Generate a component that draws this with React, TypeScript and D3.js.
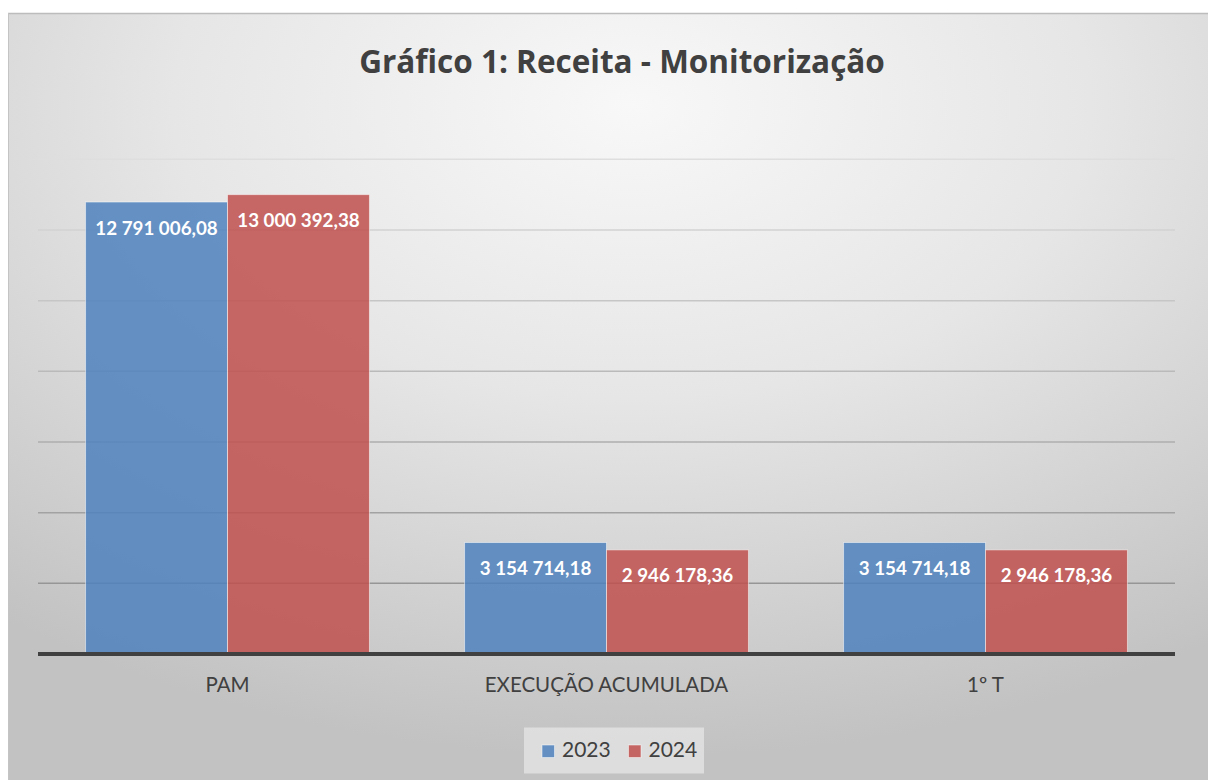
import React from "react";
import * as d3 from "d3";

const title = "Gráfico 1: Receita - Monitorização";
const categories = ["PAM", "EXECUÇÃO ACUMULADA", "1º T"];
const seriesNames = ["2023", "2024"];
const values2023 = [12791006.08, 3154714.18, 3154714.18];
const values2024 = [13000392.38, 2946178.36, 2946178.36];
const yTicks = [0, 2000000, 4000000, 6000000, 8000000, 10000000, 12000000, 14000000];
const colors = ["#4F81BD", "#C0504D"];

const W = 1208;
const H = 780;

function fmt(v: number): string {
  const [intPart, dec] = v.toFixed(2).split(".");
  const withSpaces = intPart.replace(/\B(?=(\d{3})+(?!\d))/g, " ");
  return `${withSpaces},${dec}`;
}

export default function App() {
  const left = 38;
  const right = 1175;
  const top = 159.3;
  const bottom = 654;

  const x0 = d3.scaleBand<string>().domain(categories).range([left, right]).paddingInner(0).paddingOuter(0);
  const y = d3.scaleLinear().domain([0, 14000000]).range([bottom, top]);
  const bandW = x0.bandwidth();
  const barW = bandW / (2 + 0.67);
  const x1 = d3.scaleBand<string>().domain(seriesNames).range([0, barW * 2]);

  const series = [values2023, values2024];
  const font = "Lato, 'Open Sans', sans-serif";
  const titleFont = "'Open Sans', Lato, sans-serif";

  return (
    <svg width={W} height={H} style={{ position: "absolute", left: 0, top: 0 }}>
      <defs>
        <radialGradient id="bg" cx="52%" cy="12%" r="85%" fx="52%" fy="12%">
          <stop offset="0%" stopColor="#f8f8f8" />
          <stop offset="45%" stopColor="#e6e6e6" />
          <stop offset="100%" stopColor="#c2c2c2" />
        </radialGradient>
        <linearGradient id="grid" gradientUnits="userSpaceOnUse" x1="0" y1={top} x2="0" y2={bottom}>
          <stop offset="0%" stopColor="#dedede" />
          <stop offset="100%" stopColor="#8a8a8a" />
        </linearGradient>
      </defs>
      <rect x={0} y={0} width={W} height={H} fill="#ffffff" />
      <rect x={8} y={13} width={W - 8} height={H - 13} fill="url(#bg)" />
      <line x1={8} x2={W} y1={13.5} y2={13.5} stroke="#bcbcbc" strokeWidth={1.5} />
      <line x1={8.5} x2={8.5} y1={13} y2={H} stroke="#c4c4c4" strokeWidth={1} />

      <text x={622} y={73} textAnchor="middle" fontFamily={titleFont} fontWeight={700} fontSize={31.5} fill="#404040">
        {title}
      </text>

      {yTicks.slice(1).map((t) => (
        <line key={t} x1={left} x2={right} y1={y(t)} y2={y(t)} stroke="url(#grid)" strokeWidth={1.5} />
      ))}

      {categories.map((c, ci) => {
        const gx = (x0(c) as number) + (bandW - barW * 2) / 2;
        return (
          <g key={c}>
            {seriesNames.map((s, si) => {
              const v = series[si][ci];
              const bx = gx + (x1(s) as number);
              const by = y(v);
              return (
                <g key={s}>
                  <rect
                    x={bx}
                    y={by}
                    width={barW}
                    height={bottom - by}
                    fill={colors[si]}
                    fillOpacity={0.85}
                    stroke="#ffffff"
                    strokeOpacity={0.5}
                    strokeWidth={1}
                  />
                  <text
                    x={bx + barW / 2}
                    y={by + 32.5}
                    textAnchor="middle"
                    fontFamily={font}
                    fontWeight={700}
                    fontSize={18.8}
                    fill="#ffffff"
                  >
                    {fmt(v)}
                  </text>
                </g>
              );
            })}
            <text
              x={(x0(c) as number) + bandW / 2}
              y={692}
              textAnchor="middle"
              fontFamily={font}
              fontSize={20.5}
              fill="#404040"
            >
              {c}
            </text>
          </g>
        );
      })}

      <line x1={left} x2={right} y1={bottom} y2={bottom} stroke="#404040" strokeWidth={4} />

      <rect x={524} y={727.5} width={180} height={46} fill="#e4e4e4" fillOpacity={0.8} />
      {seriesNames.map((s, si) => {
        const lx = si === 0 ? 542 : 628.5;
        return (
          <g key={s}>
            <rect x={lx} y={745} width={12.5} height={12.5} fill={colors[si]} fillOpacity={0.85} stroke="#ffffff" strokeOpacity={0.5} />
            <text x={lx + 20} y={757} fontFamily={font} fontSize={21} fill="#404040">
              {s}
            </text>
          </g>
        );
      })}
    </svg>
  );
}
